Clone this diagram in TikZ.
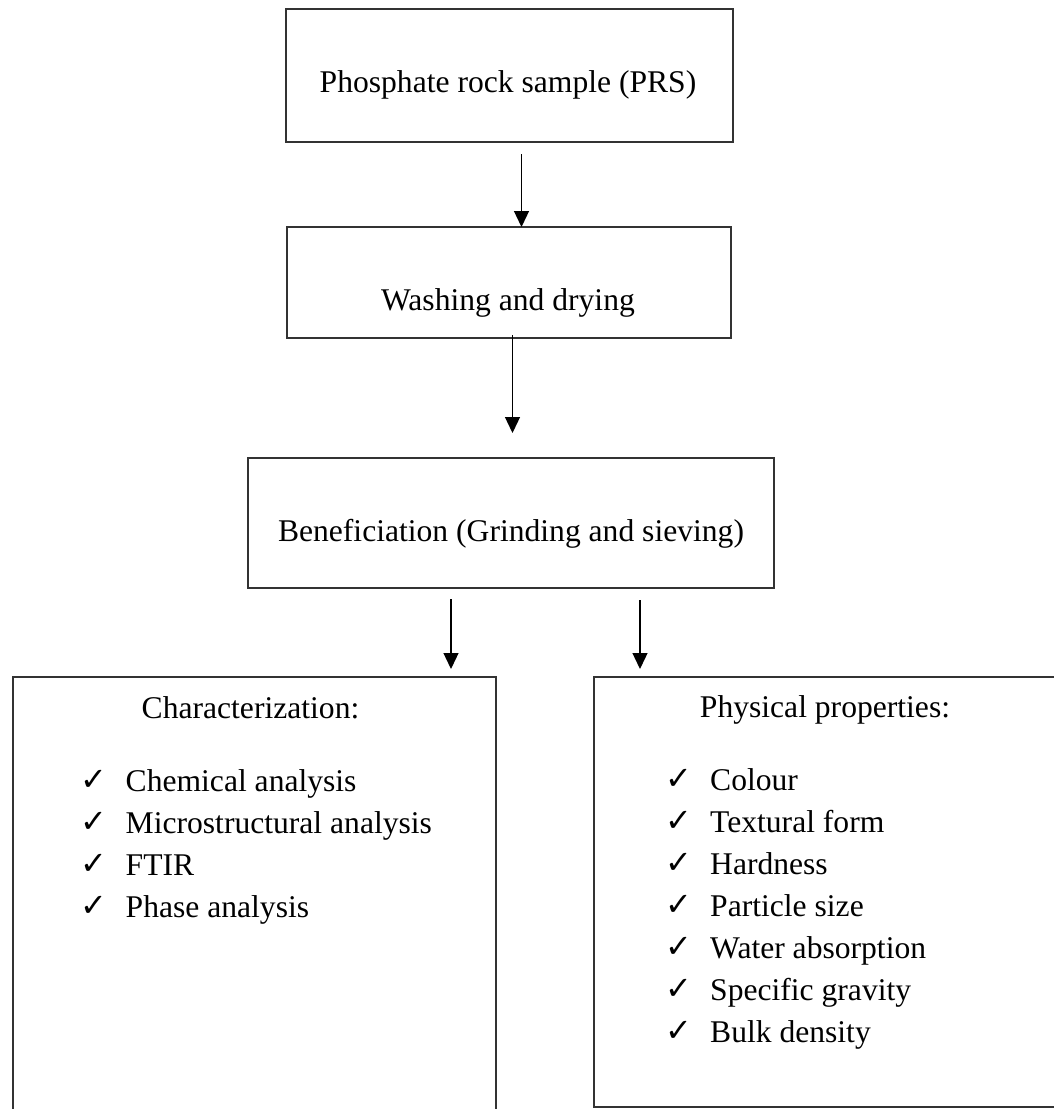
\documentclass[tikz,border=0pt]{standalone}
\usepackage{fontspec}
\setmainfont{Liberation Serif}
\newfontfamily\tickfont{DejaVu Sans}
\usetikzlibrary{arrows.meta,calc}
\newcommand{\tick}{\makebox[45pt][l]{\raisebox{1pt}{\tickfont\fontsize{32}{32}\selectfont ✓}}}

\begin{document}
\begin{tikzpicture}[x=1pt, y=-1pt, font=\fontsize{31.6}{42}\selectfont,
    box/.style={draw=black!80, line width=1.8pt, outer sep=0pt, inner sep=0pt},
    boxtext/.style={anchor=base, inner sep=0pt},
    listtext/.style={anchor=base west, inner sep=0pt},
    flow/.style={draw=black, line width=1.3pt, -{Triangle[width=15pt,length=16pt]}}]
  \useasboundingbox (0,0) rectangle (1054,1109);
  \clip (0,0) rectangle (1054,1109);

  % process steps
  \node[box, minimum width=447pt, minimum height=133pt] (prs) at (509.5,75.5) {};
  \node[boxtext] (prstext) at (508,92) {Phosphate rock sample (PRS)};

  \node[box, minimum width=444pt, minimum height=111pt] (wash) at (509,282.5) {};
  \node[boxtext] (washtext) at (508,310) {Washing and drying};

  \node[box, minimum width=526pt, minimum height=130pt] (benef) at (511,523) {};
  \node[boxtext] (beneftext) at (511,541) {Beneficiation (Grinding and sieving)};

  % the two result boxes run off the page
  \node[box, minimum width=483pt, minimum height=470pt] (charac) at (254.5,912) {};
  \node[boxtext] (charactitle) at (250.5,718) {Characterization:};
  \node[listtext] (characlist) at (80.5,791) {\begin{tabular}[t]{@{}l@{}}
      \tick Chemical analysis\\
      \tick Microstructural analysis\\
      \tick FTIR\\
      \tick Phase analysis
    \end{tabular}};

  \node[box, minimum width=490pt, minimum height=430pt] (phys) at (839,892) {};
  \node[boxtext] (phystitle) at (825,717) {Physical properties:};
  \node[listtext] (physlist) at (665,790) {\begin{tabular}[t]{@{}l@{}}
      \tick Colour\\
      \tick Textural form\\
      \tick Hardness\\
      \tick Particle size\\
      \tick Water absorption\\
      \tick Specific gravity\\
      \tick Bulk density
    \end{tabular}};

  % arrows
  \draw[flow] ($(prs.south)+(12,12)$) -- ($(wash.north)+(12.5,0)$);
  \draw[flow] ($(wash.south)+(3.5,-3)$) -- ($(benef.north)+(1.5,-25)$);
  \draw[flow] ($(benef.south)+(-60,11)$) -- ($(charac.north)+(196.5,-8)$);
  \draw[flow] ($(benef.south)+(129,12)$) -- ($(phys.north)+(-199,-8)$);
\end{tikzpicture}
\end{document}
